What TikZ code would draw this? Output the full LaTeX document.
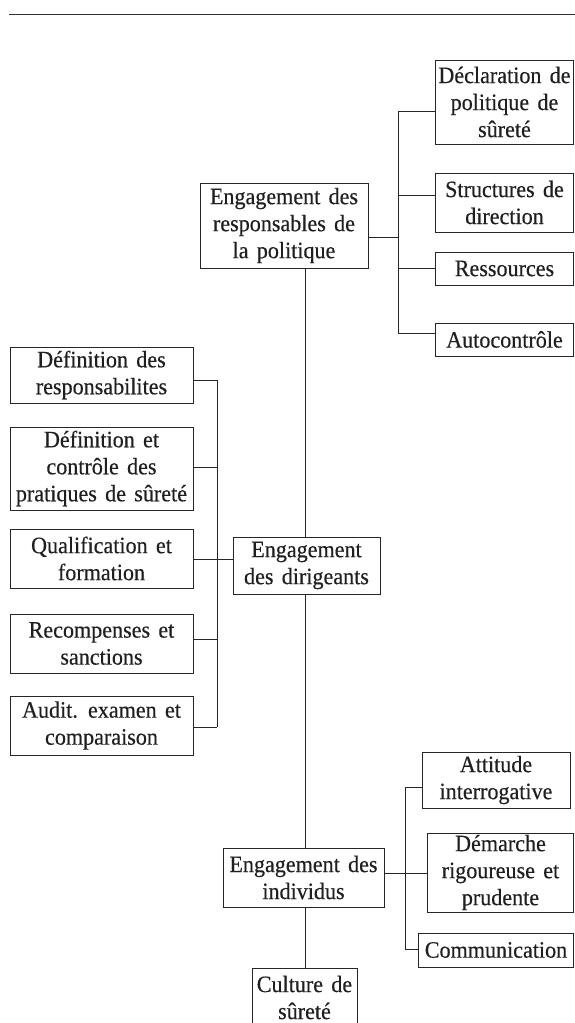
\documentclass[tikz,border=0pt]{standalone}
\usepackage{fontspec}
\setmainfont{Liberation Serif}[FakeStretch=0.94,FakeBold=0.4,WordSpace=1.5]
\begin{document}
\begin{tikzpicture}[x=1pt,y=-1pt,
  box/.style={draw=black!85, line width=0.9pt, inner sep=0pt, align=center,
    font=\fontsize{23.5}{27}\selectfont, text=black!88},
  conn/.style={draw=black!85, line width=0.9pt},
  rulestyle/.style={draw=black!80, line width=1.6pt}]
\useasboundingbox (0,0) rectangle (575,1023);
% top rule
\coordinate (ruleL) at (9,14.5);
\coordinate (ruleR) at (575,14.5);
\draw[rulestyle] (ruleL) -- (ruleR);
% boxes
\node[box, minimum width=168pt, minimum height=85pt] (resp) at (284,225.5) {Engagement des\\responsables de\\la politique};
\node[box, minimum width=138pt, minimum height=84pt] (decl) at (504.5,102) {Déclaration de\\politique de\\sûreté};
\node[box, minimum width=138pt, minimum height=59pt] (struct) at (504.5,202.5) {Structures de\\direction};
\node[box, minimum width=138pt, minimum height=33pt] (ress) at (504.5,268.5) {Ressources};
\node[box, minimum width=138pt, minimum height=33pt] (auto) at (504.5,339.5) {Autocontrôle};
\node[box, minimum width=183pt, minimum height=56pt] (def1) at (101.5,375) {Définition des\\responsabilites};
\node[box, minimum width=183pt, minimum height=83pt] (def2) at (101.5,468.5) {Définition et\\contrôle des\\pratiques de sûreté};
\node[box, minimum width=183pt, minimum height=59pt] (qual) at (101.5,558.5) {Qualification et\\formation};
\node[box, minimum width=183pt, minimum height=59pt] (rec) at (101.5,643.5) {Recompenses et\\sanctions};
\node[box, minimum width=183pt, minimum height=59pt] (aud) at (101.5,725.5) {Audit. examen et\\comparaison};
\node[box, minimum width=147pt, minimum height=57pt] (dir) at (306.5,565.5) {Engagement\\des dirigeants};
\node[box, minimum width=161pt, minimum height=59pt] (ind) at (303.5,877.5) {Engagement des\\individus};
\node[box, minimum width=105pt, minimum height=59pt] (cult) at (304.5,997.5) {Culture de\\sûreté};
\node[box, minimum width=148pt, minimum height=56pt] (att) at (496,780) {Attitude\\interrogative};
\node[box, minimum width=146pt, minimum height=79pt] (dem) at (500.5,872.5) {Démarche\\rigoureuse et\\prudente};
\node[box, minimum width=155pt, minimum height=34pt] (comm) at (496,950) {Communication};
% right junction
\coordinate (r0) at (398,237);
\coordinate (r1) at (398,111);
\coordinate (r2) at (398,195);
\coordinate (r3) at (398,268);
\coordinate (r4) at (398,333);
\draw[conn] (resp.east |- r0) -- (r0);
\draw[conn] (r1) -- (r4);
\draw[conn] (r1) -- (decl.west |- r1);
\draw[conn] (r2) -- (struct.west |- r2);
\draw[conn] (r3) -- (ress.west |- r3);
\draw[conn] (r4) -- (auto.west |- r4);
% trunk
\coordinate (tx) at (305,0);
\draw[conn] (resp.south -| tx) -- (dir.north -| tx);
\draw[conn] (dir.south -| tx) -- (ind.north -| tx);
\draw[conn] (ind.south -| tx) -- (cult.north -| tx);
% left junction
\coordinate (l1) at (217,380);
\coordinate (l2) at (217,467);
\coordinate (l3) at (217,559);
\coordinate (l4) at (217,639);
\coordinate (l5) at (217,727);
\draw[conn] (l1) -- (l5);
\draw[conn] (def1.east |- l1) -- (l1);
\draw[conn] (def2.east |- l2) -- (l2);
\draw[conn] (qual.east |- l3) -- (dir.west |- l3);
\draw[conn] (rec.east |- l4) -- (l4);
\draw[conn] (aud.east |- l5) -- (l5);
% individus junction
\coordinate (i1) at (405,787);
\coordinate (i2) at (405,873);
\coordinate (i3) at (405,949);
\draw[conn] (i1) -- (i3);
\draw[conn] (ind.east |- i2) -- (dem.west |- i2);
\draw[conn] (i1) -- (att.west |- i1);
\draw[conn] (i3) -- (comm.west |- i3);
\end{tikzpicture}
\end{document}
